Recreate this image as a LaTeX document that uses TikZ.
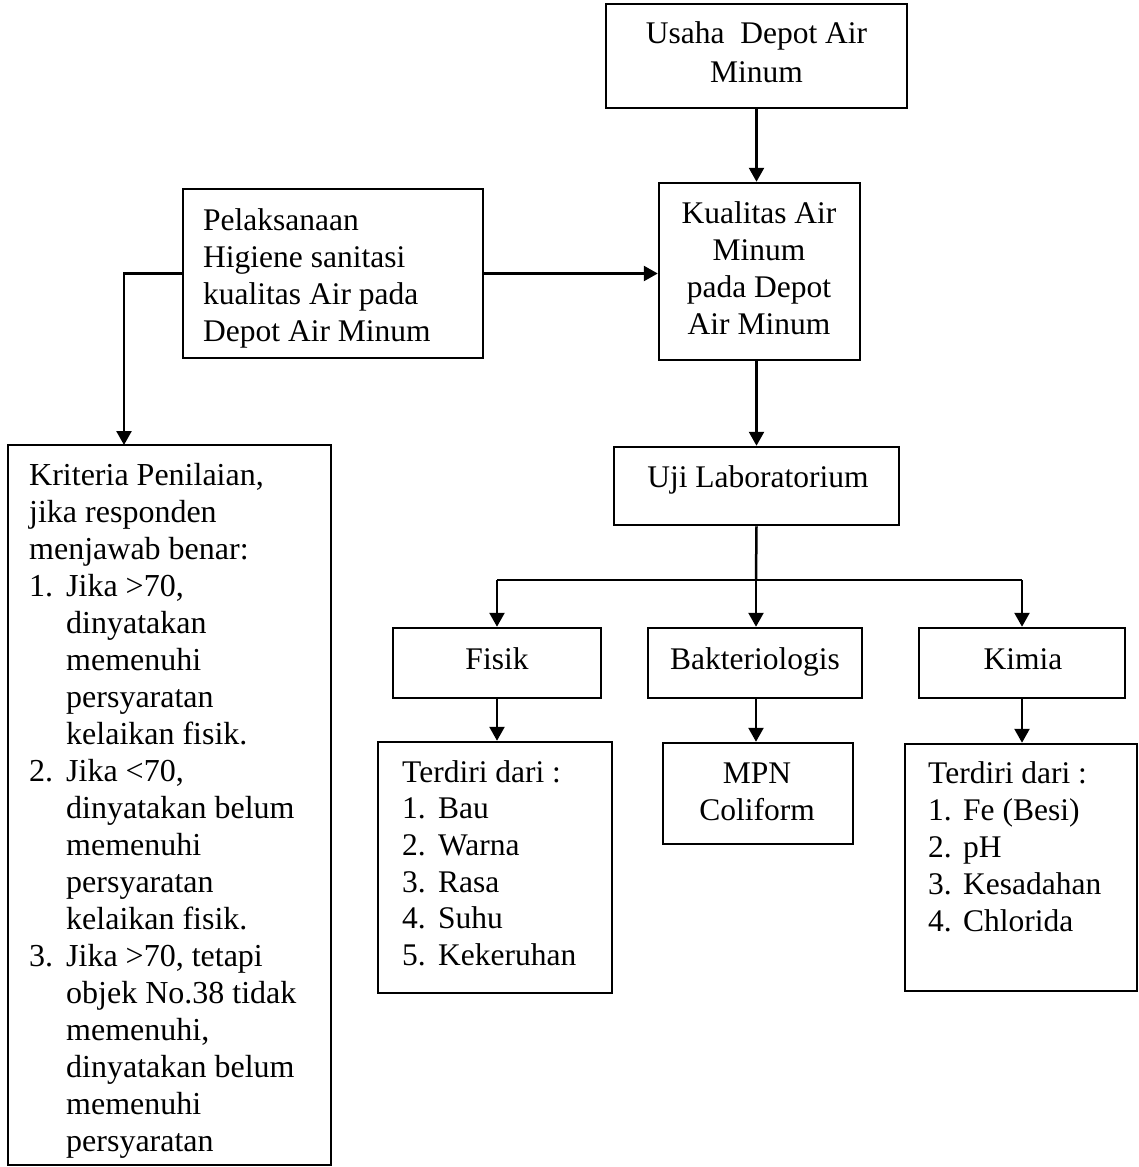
\documentclass[tikz,border=0pt]{standalone}
\usepackage{fontspec}
\setmainfont{Liberation Serif}
\usetikzlibrary{arrows.meta}
\newcommand{\itm}[3]{\makebox[#1][l]{#2}#3}
\newcommand{\cnt}[2]{\hspace*{#1}#2}
\begin{document}
\begin{tikzpicture}[x=1pt,y=-1pt,
  box/.style={draw, line width=2.5pt, inner sep=0pt, rectangle},
  arr/.style={line width=2.5pt, -{Triangle[length=14pt,width=15pt]}},
  ln/.style={line width=2.5pt},
  txt/.style={inner sep=0pt, font=\fontsize{31.5}{37}\selectfont}]
\useasboundingbox (0,0) rectangle (1139,1167);

% boxes
\node[box, minimum width=301pt, minimum height=104pt] (usaha) at (756.5,56) {};
\node[box, minimum width=201pt, minimum height=177pt] (kual) at (759.5,271.5) {};
\node[box, minimum width=300pt, minimum height=169pt] (pel) at (333,273.5) {};
\node[box, minimum width=323pt, minimum height=720pt] (krit) at (169.5,805) {};
\node[box, minimum width=285pt, minimum height=78pt] (uji) at (756.5,486) {};
\node[box, minimum width=208pt, minimum height=70pt] (fisik) at (497,663) {};
\node[box, minimum width=214pt, minimum height=70pt] (bakt) at (755,663) {};
\node[box, minimum width=206pt, minimum height=70pt] (kimia) at (1022,663) {};
\node[box, minimum width=234pt, minimum height=251pt] (tfis) at (495,867.5) {};
\node[box, minimum width=190pt, minimum height=101pt] (mpn) at (758,793.5) {};
\node[box, minimum width=232pt, minimum height=247pt] (tkim) at (1021,867.5) {};

% texts
\node[txt, anchor=base] (usahaT) at (756.5,43)
  {\parbox[t]{290pt}{\fontsize{31.5}{39}\selectfont\centering Usaha~~Depot Air\\Minum}};
\node[txt, anchor=base] (kualT) at (759,223)
  {\parbox[t]{195pt}{\centering Kualitas Air\\Minum\\pada Depot\\Air Minum}};
\node[txt, anchor=base west] (pelT) at (203,230)
  {\parbox[t]{275pt}{\raggedright Pelaksanaan\\Higiene sanitasi\\kualitas Air pada\\Depot Air Minum}};
\node[txt, anchor=base west] (kritT) at (29,485)
  {\parbox[t]{298pt}{\fontsize{32}{37}\selectfont\raggedright
   Kriteria Penilaian,\\
   jika responden\\
   menjawab benar:\\
   \itm{37pt}{1.}{Jika >70,}\\
   \cnt{37pt}{dinyatakan}\\
   \cnt{37pt}{memenuhi}\\
   \cnt{37pt}{persyaratan}\\
   \cnt{37pt}{kelaikan fisik.}\\
   \itm{37pt}{2.}{Jika <70,}\\
   \cnt{37pt}{dinyatakan belum}\\
   \cnt{37pt}{memenuhi}\\
   \cnt{37pt}{persyaratan}\\
   \cnt{37pt}{kelaikan fisik.}\\
   \itm{37pt}{3.}{Jika >70, tetapi}\\
   \cnt{37pt}{objek No.38 tidak}\\
   \cnt{37pt}{memenuhi,}\\
   \cnt{37pt}{dinyatakan belum}\\
   \cnt{37pt}{memenuhi}\\
   \cnt{37pt}{persyaratan}}};
\node[txt, anchor=base] (ujiT) at (758,487) {Uji Laboratorium};
\node[txt, anchor=base] (fisikT) at (497,669) {Fisik};
\node[txt, anchor=base] (baktT) at (755,669) {Bakteriologis};
\node[txt, anchor=base] (kimiaT) at (1023,669) {Kimia};
\node[txt, anchor=base west] (tfisT) at (402,782)
  {\parbox[t]{205pt}{\fontsize{31.5}{36.7}\selectfont\raggedright
   Terdiri dari :\\
   \itm{36pt}{1.}{Bau}\\
   \itm{36pt}{2.}{Warna}\\
   \itm{36pt}{3.}{Rasa}\\
   \itm{36pt}{4.}{Suhu}\\
   \itm{36pt}{5.}{Kekeruhan}}};
\node[txt, anchor=base] (mpnT) at (757,783)
  {\parbox[t]{180pt}{\centering MPN\\Coliform}};
\node[txt, anchor=base west] (tkimT) at (928,783)
  {\parbox[t]{205pt}{\raggedright
   Terdiri dari :\\
   \itm{35pt}{1.}{Fe (Besi)}\\
   \itm{35pt}{2.}{pH}\\
   \itm{35pt}{3.}{Kesadahan}\\
   \itm{35pt}{4.}{Chlorida}}};

% connectors
\coordinate (kritin) at (124,445);
\coordinate (br) at (756,580);
\draw[arr] (usaha.south) -- (usaha.south |- kual.north);
\draw[arr] (pel.east) -- (pel.east -| kual.west);
\draw[arr] (pel.west) -| (kritin);
\draw[arr] (uji.north |- kual.south) -- (uji.north);
\draw[ln] (uji.south) -- (br);
\draw[ln] (br -| fisik.north) -- (br -| kimia.north);
\draw[arr] (br -| fisik.north) -- (fisik.north);
\draw[arr] (br) -- (br |- bakt.north);
\draw[arr] (br -| kimia.north) -- (kimia.north);
\draw[arr] (fisik.south) -- (fisik.south |- tfis.north);
\draw[arr] (bakt.south -| br) -- (br |- mpn.north);
\draw[arr] (kimia.south) -- (kimia.south |- tkim.north);
\end{tikzpicture}
\end{document}
